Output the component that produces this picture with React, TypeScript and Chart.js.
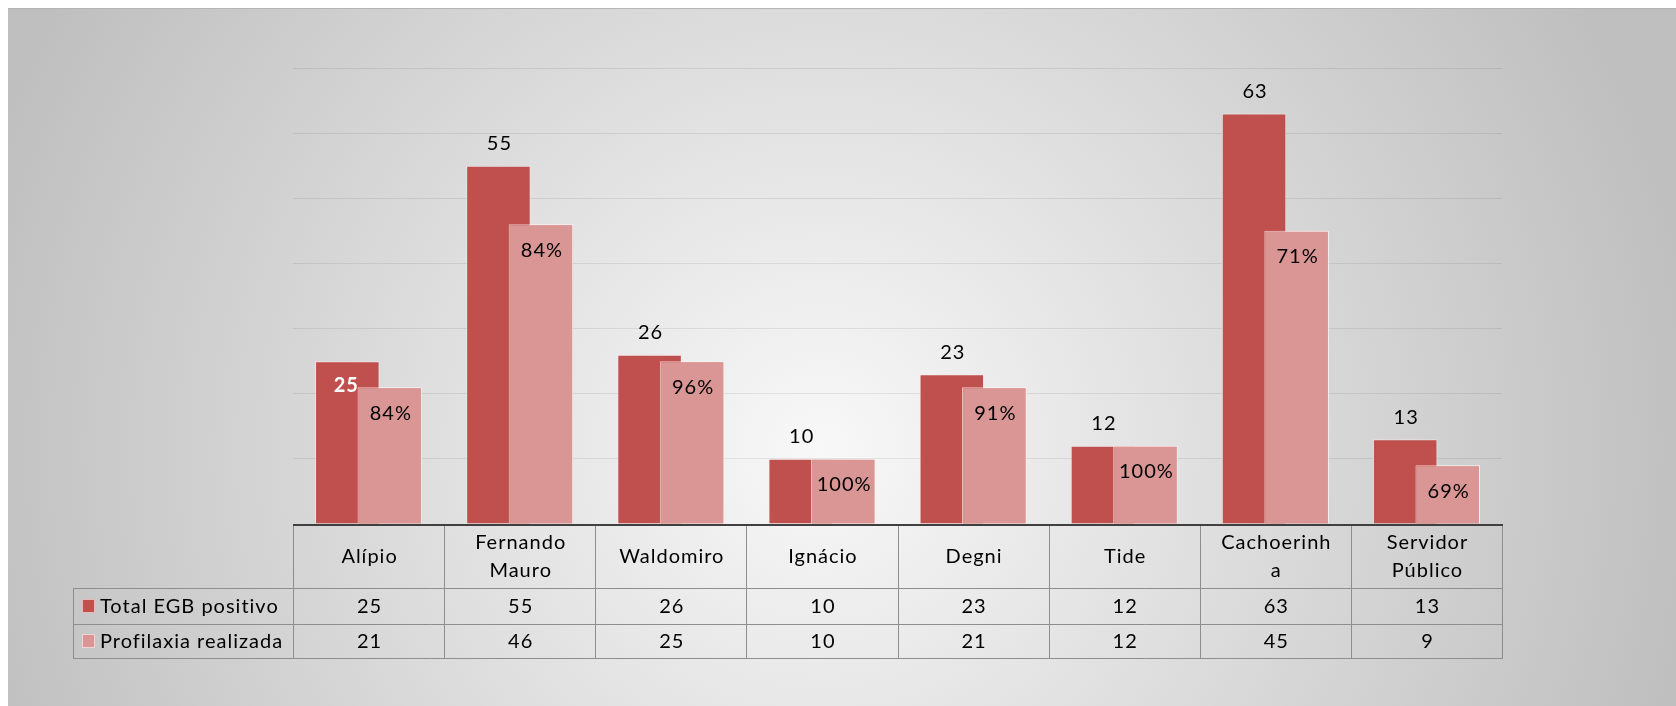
import React, { useEffect, useRef } from "react";
import { Chart, registerables } from "chart.js";

Chart.register(...registerables);

// ---- data ----
const categories = [
  "Alípio",
  "Fernando Mauro",
  "Waldomiro",
  "Ignácio",
  "Degni",
  "Tide",
  "Cachoerinha",
  "Servidor Público",
];
// header (tick) labels as they are wrapped in the data table
const headerLabels = [
  ["Alípio"],
  ["Fernando", "Mauro"],
  ["Waldomiro"],
  ["Ignácio"],
  ["Degni"],
  ["Tide"],
  ["Cachoerinh", "a"],
  ["Servidor", "Público"],
];
const totalEGB = [25, 55, 26, 10, 23, 12, 63, 13];
const profilaxia = [21, 46, 25, 10, 21, 12, 45, 9];
const seriesNames = ["Total EGB positivo", "Profilaxia realizada"];
const yMax = 70;
const yStep = 10;

// ---- style ----
const FONT = 'Lato, "Noto Sans", sans-serif';
const FSIZE = 20;
const LS = "1px";
const DARK = "#C0504D";
const LIGHT = "#D99694";
const W = 1676;
const H = 706;

function setText(ctx: any, bold = false) {
  ctx.font = `${bold ? "bold " : ""}${FSIZE}px ${FONT}`;
  try {
    ctx.letterSpacing = LS;
  } catch (e) {}
}

const bgPlugin = {
  id: "bgPanel",
  beforeDraw(chart: any) {
    const { ctx } = chart;
    ctx.save();
    ctx.fillStyle = "#ffffff";
    ctx.fillRect(0, 0, W, H);
    const g = ctx.createRadialGradient(820, 450, 0, 820, 450, 880);
    g.addColorStop(0, "#f8f8f8");
    g.addColorStop(1, "#bfbfbf");
    ctx.fillStyle = g;
    ctx.fillRect(8, 8, W - 8, H - 8);
    ctx.strokeStyle = "#b5b5b5";
    ctx.lineWidth = 1;
    ctx.beginPath();
    ctx.moveTo(8, 8.5);
    ctx.lineTo(W, 8.5);
    ctx.stroke();
    ctx.restore();
  },
};

const labelPlugin = {
  id: "barLabels",
  afterDatasetsDraw(chart: any) {
    const { ctx } = chart;
    const m0 = chart.getDatasetMeta(0);
    const m1 = chart.getDatasetMeta(1);
    // light series sits in front of the dark one
    ctx.save();
    m1.data.forEach((el: any) => el.draw(ctx));
    ctx.restore();

    ctx.save();
    ctx.textAlign = "center";
    ctx.textBaseline = "middle";
    const d0 = chart.data.datasets[0].data as number[];
    const d1 = chart.data.datasets[1].data as number[];
    m0.data.forEach((el: any, i: number) => {
      const { x, y } = el.getProps(["x", "y"], true);
      if (i === 0) {
        setText(ctx, true);
        ctx.fillStyle = "#ffffff";
        ctx.fillText(String(d0[i]), x - 1, y + 24);
      } else {
        setText(ctx);
        ctx.fillStyle = "#000000";
        ctx.fillText(String(d0[i]), x + 1, y - 22);
      }
    });
    m1.data.forEach((el: any, i: number) => {
      const { x, y } = el.getProps(["x", "y"], true);
      setText(ctx);
      ctx.fillStyle = "#000000";
      const pct = Math.round((d1[i] / d0[i]) * 100);
      ctx.fillText(pct + "%", x + 1, y + 26);
    });
    ctx.restore();
  },
};

const tablePlugin = {
  id: "dataTable",
  afterDraw(chart: any) {
    const { ctx, chartArea } = chart;
    const xs = chart.scales.x;
    const n = categories.length;
    const half = (xs.getPixelForValue(1) - xs.getPixelForValue(0)) / 2;
    const bounds: number[] = [];
    for (let i = 0; i < n; i++) bounds.push(xs.getPixelForValue(i) - half);
    bounds.push(xs.getPixelForValue(n - 1) + half);
    const top = chartArea.bottom;
    const hdrB = top + 64;
    const r1B = hdrB + 36;
    const r2B = r1B + 34;
    const legL = chartArea.left - 220;
    const L = bounds[0];
    const R = bounds[n];

    ctx.save();
    ctx.strokeStyle = "#8e8e8e";
    ctx.lineWidth = 1;
    ctx.beginPath();
    bounds.forEach((b) => {
      const xx = Math.round(b) + 0.5;
      ctx.moveTo(xx, top);
      ctx.lineTo(xx, r2B);
    });
    ctx.moveTo(Math.round(legL) + 0.5, hdrB);
    ctx.lineTo(Math.round(legL) + 0.5, r2B);
    [hdrB, r1B, r2B].forEach((yy) => {
      ctx.moveTo(legL, Math.round(yy) + 0.5);
      ctx.lineTo(R + 1, Math.round(yy) + 0.5);
    });
    ctx.stroke();

    // axis line
    ctx.strokeStyle = "#404040";
    ctx.lineWidth = 2;
    ctx.beginPath();
    ctx.moveTo(L, top + 1);
    ctx.lineTo(R + 1, top + 1);
    ctx.stroke();

    ctx.fillStyle = "#000000";
    setText(ctx);
    ctx.textAlign = "center";
    ctx.textBaseline = "middle";
    const hc = (top + hdrB) / 2 + 1;
    const lh = 28;
    headerLabels.forEach((lines, i) => {
      const cx = xs.getPixelForValue(i) + 1;
      const y0 = hc - ((lines.length - 1) * lh) / 2;
      lines.forEach((t, k) => ctx.fillText(t, cx, y0 + k * lh));
    });
    const rows = [
      { data: chart.data.datasets[0].data, y: (hdrB + r1B) / 2 + 1 },
      { data: chart.data.datasets[1].data, y: (r1B + r2B) / 2 + 1 },
    ];
    rows.forEach((r) => {
      r.data.forEach((v: number, i: number) => {
        ctx.fillText(String(v), xs.getPixelForValue(i) + 1, r.y);
      });
    });
    // legend keys
    ctx.textAlign = "left";
    [DARK, LIGHT].forEach((c, k) => {
      const cy = rows[k].y - 1;
      ctx.fillStyle = c;
      ctx.fillRect(legL + 9, cy - 7, 13, 14);
      ctx.strokeStyle = "rgba(255,255,255,0.6)";
      ctx.lineWidth = 1;
      ctx.strokeRect(legL + 9.5, cy - 6.5, 12, 13);
      ctx.fillStyle = "#000000";
      ctx.fillText(seriesNames[k], legL + 27, rows[k].y);
    });
    ctx.restore();
  },
};

export default function App() {
  const ref = useRef<HTMLCanvasElement | null>(null);
  useEffect(() => {
    let chart: Chart | null = null;
    let cancelled = false;
    const make = () => {
      if (cancelled || !ref.current) return;
      chart = new Chart(ref.current, {
        type: "bar",
        data: {
          labels: categories,
          datasets: [
            {
              label: seriesNames[0],
              data: totalEGB,
              backgroundColor: DARK,
              borderColor: "rgba(255,235,235,0.55)",
              borderWidth: 1,
              categoryPercentage: 0.5625,
              barPercentage: 1.518,
            },
            {
              label: seriesNames[1],
              data: profilaxia,
              backgroundColor: LIGHT,
              borderColor: "rgba(255,240,240,0.75)",
              borderWidth: 1,
              categoryPercentage: 0.5625,
              barPercentage: 1.518,
            },
          ],
        },
        options: {
          animation: false,
          responsive: false,
          devicePixelRatio: 1,
          events: [],
          layout: { padding: { left: 293, right: W - 1502, top: 68, bottom: H - 524 } },
          plugins: { legend: { display: false }, tooltip: { enabled: false } },
          scales: {
            x: { display: false },
            y: {
              min: 0,
              max: yMax,
              ticks: { display: false, stepSize: yStep },
              border: { display: false },
              grid: {
                drawTicks: false,
                color: (c: any) => (c.tick && c.tick.value === 0 ? "rgba(0,0,0,0)" : "rgba(0,0,0,0.08)"),
                lineWidth: 1,
              },
            },
          },
        },
        plugins: [bgPlugin, labelPlugin, tablePlugin],
      });
    };
    const fonts: any = (document as any).fonts;
    if (fonts && fonts.load) {
      Promise.all([fonts.load(`${FSIZE}px Lato`), fonts.load(`bold ${FSIZE}px Lato`)]).then(make, make);
    } else make();
    return () => {
      cancelled = true;
      if (chart) chart.destroy();
    };
  }, []);
  return (
    <div style={{ position: "fixed", left: 0, top: 0, width: W, height: H }}>
      <canvas ref={ref} width={W} height={H} style={{ display: "block", width: W, height: H }} />
    </div>
  );
}
